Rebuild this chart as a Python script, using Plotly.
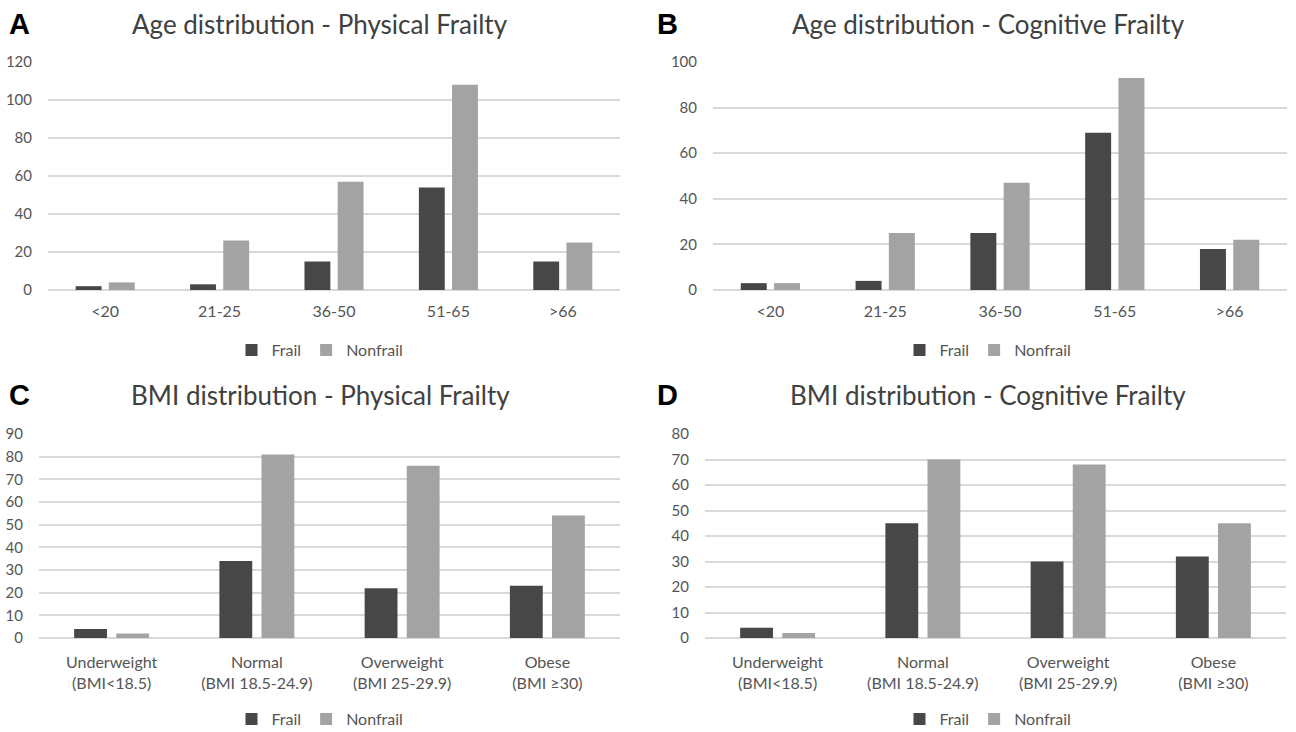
import plotly.graph_objects as go

# ---------------- data ----------------
age_categories = ["<20", "21-25", "36-50", "51-65", ">66"]
age_phys_frail = [2, 3, 15, 54, 15]
age_phys_nonfrail = [4, 26, 57, 108, 25]
age_cog_frail = [3, 4, 25, 69, 18]
age_cog_nonfrail = [3, 25, 47, 93, 22]

bmi_categories = ["Underweight<br>(BMI<18.5)", "Normal<br>(BMI 18.5-24.9)",
                  "Overweight<br>(BMI 25-29.9)", "Obese<br>(BMI ≥30)"]
bmi_phys_frail = [4, 34, 22, 23]
bmi_phys_nonfrail = [2, 81, 76, 54]
bmi_cog_frail = [4, 45, 30, 32]
bmi_cog_nonfrail = [2, 70, 68, 45]

titles = ["Age distribution - Physical Frailty", "Age distribution - Cognitive Frailty",
          "BMI distribution - Physical Frailty", "BMI distribution - Cognitive Frailty"]
panel_letters = ["A", "B", "C", "D"]
y_ranges = [(0, 120, 20), (0, 100, 20), (0, 90, 10), (0, 80, 10)]

# ---------------- style ----------------
FRAIL = "#474747"
NONFRAIL = "#a3a3a3"
GRID = "#d9d9d9"
TXT = "#555555"
FONT = "Lato"

W, H = 1296, 732
def px_x(x):
    return x / W
def px_y(y):
    return 1 - y / H

# plot areas in pixels (left, right, top, bottom)
areas = [(48, 620, 62, 290), (713, 1287, 62, 290), (39, 620, 434, 638), (705, 1286, 434, 638)]

fig = go.Figure()

panels = [
    (age_categories, age_phys_frail, age_phys_nonfrail),
    (age_categories, age_cog_frail, age_cog_nonfrail),
    (bmi_categories, bmi_phys_frail, bmi_phys_nonfrail),
    (bmi_categories, bmi_cog_frail, bmi_cog_nonfrail),
]

legend_names = ["legend", "legend2", "legend3", "legend4"]
for i, (cats, fr, nf) in enumerate(panels):
    ax = "" if i == 0 else str(i + 1)
    fig.add_trace(go.Bar(x=cats, y=fr, name="Frail", marker=dict(color=FRAIL, line=dict(width=0)),
                         xaxis="x" + ax, yaxis="y" + ax, legend=legend_names[i]))
    fig.add_trace(go.Bar(x=cats, y=nf, name="Nonfrail", marker=dict(color=NONFRAIL, line=dict(width=0)),
                         xaxis="x" + ax, yaxis="y" + ax, legend=legend_names[i]))

layout = dict(
    width=W, height=H,
    margin=dict(l=0, r=0, t=0, b=0, autoexpand=False),
    paper_bgcolor="white", plot_bgcolor="white",
    barmode="group", bargap=0.42, bargroupgap=0.22,
    font=dict(family=FONT, color=TXT, size=16),
)

annotations = []
for i, (l, r, t, b) in enumerate(areas):
    ax = "" if i == 0 else str(i + 1)
    lo, hi, dt = y_ranges[i]
    layout["xaxis" + ax] = dict(domain=[px_x(l), px_x(r)], anchor="y" + ax,
                                showgrid=False, showline=False, ticks="",
                                tickfont=dict(family=FONT, size=16, color=TXT),
                                ticklabelstandoff=10 if i < 2 else 13,
                                automargin=False, fixedrange=True)
    layout["yaxis" + ax] = dict(domain=[px_y(b), px_y(t)], anchor="x" + ax,
                                range=[lo, hi], dtick=dt, tick0=0,
                                showgrid=True, gridcolor=GRID, gridwidth=1.5,
                                zeroline=True, zerolinecolor=GRID, zerolinewidth=1.5,
                                showline=False, ticks="",
                                tickfont=dict(family=FONT, size=15, color=TXT),
                                ticklabelstandoff=15, automargin=False, fixedrange=True)
    cx = (l + r) / 2
    # title
    title_y = 24 if i < 2 else 395
    tx = 320 if i in (0, 2) else 988
    annotations.append(dict(text=titles[i], x=px_x(tx), y=px_y(title_y),
                            xref="paper", yref="paper", showarrow=False,
                            xanchor="center", yanchor="middle",
                            font=dict(family=FONT, size=26, color="#404040")))
    # panel letter
    lx = 7 if i in (0, 2) else 655
    annotations.append(dict(text="<b>%s</b>" % panel_letters[i], x=px_x(lx), y=px_y(title_y),
                            xref="paper", yref="paper", showarrow=False,
                            xanchor="left", yanchor="middle",
                            font=dict(family="Liberation Sans", size=29, color="black")))
    # legend
    leg_y = 350 if i < 2 else 719
    layout[legend_names[i]] = dict(orientation="h", x=px_x(tx), y=px_y(leg_y),
                                   xanchor="center", yanchor="middle",
                                   font=dict(family=FONT, size=16, color=TXT),
                                   itemwidth=30, bgcolor="rgba(0,0,0,0)",
                                   traceorder="normal", itemclick=False, itemdoubleclick=False)

layout["annotations"] = annotations
fig.update_layout(**layout)

fig.write_html("out.html", config={"displayModeBar": False})
